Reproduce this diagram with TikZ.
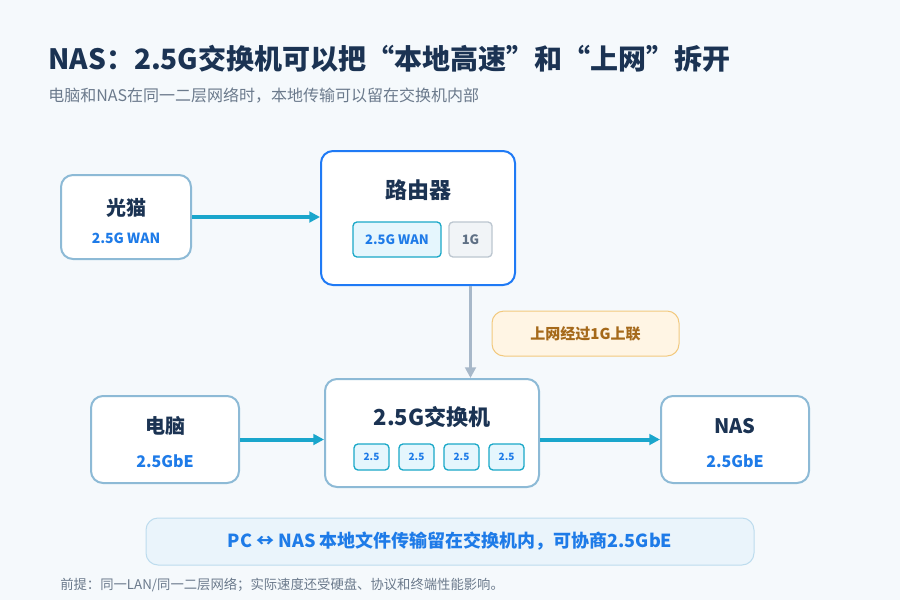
\documentclass[tikz,border=0pt]{standalone}
\usepackage{fontspec}
\setmainfont{Noto Sans CJK SC}
\usepackage{xcolor}
\definecolor{nasbg}{HTML}{F5F9FC}
\definecolor{nasnavy}{HTML}{1B3353}
\definecolor{nasgray}{HTML}{6B7A8C}
\definecolor{nasedge}{HTML}{8DBAD6}
\definecolor{nasblue}{HTML}{1F7AF5}
\definecolor{nastext}{HTML}{1E7BE8}
\definecolor{nasteal}{HTML}{1AA6CC}
\definecolor{nasport}{HTML}{E5F6FD}
\definecolor{nasportedge}{HTML}{1AA8C8}
\definecolor{nasslow}{HTML}{F1F4F7}
\definecolor{nasslowedge}{HTML}{BCC6D0}
\definecolor{nasslowtext}{HTML}{5F7085}
\definecolor{nasup}{HTML}{A7B8C9}
\definecolor{nasnote}{HTML}{FFF5E4}
\definecolor{nasnoteedge}{HTML}{F2C97E}
\definecolor{nasnotetext}{HTML}{A5691A}
\definecolor{nasbanner}{HTML}{EAF4FB}
\definecolor{nasbanneredge}{HTML}{BDDCEE}
\usetikzlibrary{arrows.meta,positioning,calc}

\begin{document}
\begin{tikzpicture}[x=0.75pt,y=-0.75pt,
  device/.style={draw=nasedge,line width=1.5pt,fill=white,rounded corners=9pt},
  devlabel/.style={font=\fontsize{15}{18}\selectfont\bfseries,text=nasnavy},
  speedlabel/.style={font=\fontsize{10.5}{13}\selectfont\bfseries,text=nastext},
  portbox/.style={draw=nasportedge,line width=1pt,fill=nasport,rounded corners=3pt,
    text=nastext,font=\fontsize{9.75}{12}\selectfont\bfseries},
  fastlink/.style={-{Triangle[length=8pt,width=8pt]},line width=3pt,nasteal},
  uplink/.style={-{Triangle[length=8pt,width=8pt]},line width=2.25pt,nasup}
]
  % Background
  \fill[nasbg] (0,0) rectangle (900,600);

  % Heading
  \node[anchor=west,font=\fontsize{21}{25}\selectfont\bfseries,text=nasnavy,inner sep=0pt]
    (title) at (48,59) {NAS：2.5G交换机可以把“本地高速”和“上网”拆开};
  \node[anchor=west,font=\fontsize{12}{14}\selectfont,text=nasgray,inner sep=0pt]
    (subtitle) at (48,96) {电脑和NAS在同一二层网络时，本地传输可以留在交换机内部};

  % Modem
  \node[device,minimum width=97.5pt,minimum height=63pt] (modem) at (126,217) {};
  \node[devlabel] at (126,208) {光猫};
  \node[speedlabel] at (126,238) {2.5G WAN};

  % Router
  \node[device,draw=nasblue,minimum width=145.5pt,minimum height=100.5pt] (router) at (418,218) {};
  \node[devlabel,font=\fontsize{16.5}{20}\selectfont\bfseries] at (418,190) {路由器};
  \node[portbox,minimum width=66pt,minimum height=26.25pt,inner sep=0pt] (wan) at (397,239.5) {2.5G WAN};
  \node[portbox,draw=nasslowedge,fill=nasslow,text=nasslowtext,minimum width=32.25pt,
    minimum height=26.25pt,inner sep=0pt] (lan1g) at (470.5,239.5) {1G};

  % Switch
  \node[device,minimum width=160.5pt,minimum height=81pt] (switch) at (432,433) {};
  \node[devlabel,font=\fontsize{16.5}{20}\selectfont\bfseries] at (432,417) {2.5G交换机};
  \foreach \x [count=\i] in {371.5,416.5,461.5,506.5} {
    \node[portbox,font=\fontsize{7.5}{9}\selectfont\bfseries,minimum width=26.25pt,
      minimum height=19.5pt,inner sep=0pt] (sw\i) at (\x,457) {2.5};
  }

  % PC and NAS
  \node[device,minimum width=111pt,minimum height=65.25pt] (pc) at (165,439.5) {};
  \node[devlabel] at (165,426) {电脑};
  \node[speedlabel,font=\fontsize{12}{14}\selectfont\bfseries] at (165,461) {2.5GbE};

  \node[device,minimum width=111pt,minimum height=65.25pt] (nas) at (735,439.5) {};
  \node[devlabel] at (735,426) {NAS};
  \node[speedlabel,font=\fontsize{12}{14}\selectfont\bfseries] at (735,461) {2.5GbE};

  % Links
  \draw[fastlink] (modem.east) -- (modem.east -| router.west);
  \draw[uplink] (lan1g |- router.south) -- (lan1g |- switch.north);
  \draw[fastlink] (pc.east) -- (pc.east -| switch.west);
  \draw[fastlink] (nas.west -| switch.east) -- (nas.west);

  % Uplink note
  \node[draw=nasnoteedge,line width=0.75pt,fill=nasnote,rounded corners=9pt,
    minimum width=140.25pt,minimum height=33.75pt,text=nasnotetext,
    font=\fontsize{11.25}{13}\selectfont\bfseries] (note) at (585.5,333.5) {上网经过1G上联};

  % Summary
  \node[draw=nasbanneredge,line width=0.75pt,fill=nasbanner,rounded corners=9pt,
    minimum width=456pt,minimum height=35.25pt,text=nastext,
    font=\fontsize{13.5}{16}\selectfont\bfseries] (banner) at (450,541.5)
    {PC ↔ NAS 本地文件传输留在交换机内，可协商2.5GbE};
  \node[anchor=west,font=\fontsize{10}{12}\selectfont,text=nasgray,inner sep=0pt]
    (footnote) at (60,585) {前提：同一LAN/同一二层网络；实际速度还受硬盘、协议和终端性能影响。};
\end{tikzpicture}
\end{document}
